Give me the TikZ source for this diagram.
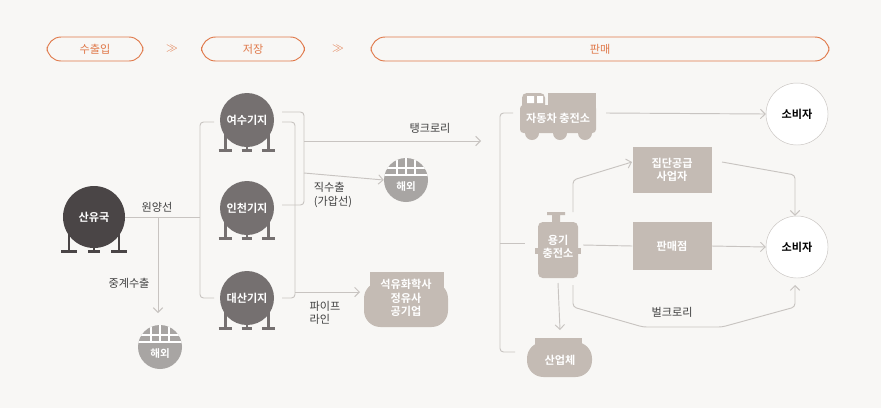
\documentclass[tikz,border=0pt]{standalone}
\usepackage{fontspec}
\setmainfont{Noto Sans CJK KR}[BoldFont={Noto Sans CJK KR Bold}]
\usetikzlibrary{positioning,arrows.meta}
\definecolor{bgcol}{HTML}{F8F7F5}
\definecolor{lpgorange}{HTML}{E0794A}
\definecolor{oilcol}{HTML}{4A4546}
\definecolor{basecol}{HTML}{757070}
\definecolor{globecol}{HTML}{A8A5A3}
\definecolor{salecol}{HTML}{C4BBB4}
\definecolor{linecol}{HTML}{C8C4C1}

% tank legs below a round node: centre x, y, radius
\newcommand{\tanklegs}[4]{%
  \draw[#4, line width=2.2pt] (#1-#3*0.8,#2) -- (#1-#3*0.8,#2+#3*1.12)
    (#1+#3*0.8,#2) -- (#1+#3*0.8,#2+#3*1.12)
    (#1-#3*1.05,#2+#3*1.12) -- (#1-#3*0.55,#2+#3*1.12)
    (#1+#3*0.55,#2+#3*1.12) -- (#1+#3*1.05,#2+#3*1.12)
    (#1,#2+#3*0.9) -- (#1,#2+#3*1.12)
    (#1-#3*0.2,#2+#3*1.12) -- (#1+#3*0.2,#2+#3*1.12);}
% globe grid on a round node
\newcommand{\globegrid}[2]{%
  \begin{scope}
    \clip (#1,#2) circle (22);
    \draw[white, line width=1.6pt] (#1-22,#2-12) -- (#1+22,#2-12) (#1-22,#2-5) -- (#1+22,#2-5)
      (#1,#2-22) -- (#1,#2-5) (#1-9,#2-22) -- (#1-9,#2-5) (#1+9,#2-22) -- (#1+9,#2-5);
  \end{scope}}

\begin{document}
\begin{tikzpicture}[x=0.03cm, y=-0.03cm,
    every node/.style={font=\fontsize{9.5}{11.5}\selectfont},
    stage/.style={draw=lpgorange, rounded corners=12, thick, text=lpgorange, minimum height=0.72cm},
    chev/.style={text=lpgorange, font=\fontsize{10}{10}\selectfont},
    tank/.style={circle, fill=basecol, text=white, minimum size=1.62cm, inner sep=0pt, font=\fontsize{9.5}{11}\selectfont\bfseries},
    globe/.style={circle, fill=globecol, text=white, minimum size=1.32cm, inner sep=0pt},
    salebox/.style={fill=salecol, text=white, align=center, inner sep=0pt, font=\fontsize{9.5}{11.5}\selectfont\bfseries},
    user/.style={circle, draw=linecol, fill=white, minimum size=1.86cm, inner sep=0pt},
    flow/.style={draw=linecol, line width=0.8pt, rounded corners=3},
    arrow/.style={flow, -{Straight Barb[length=4pt, width=8pt]}},
    lbl/.style={text=black!75, align=left}
  ]
  \fill[bgcol] (0,0) rectangle (881,408);

  % stages
  \node[stage, minimum width=2.88cm] (imp) at (95,49) {수출입};
  \node[chev] (c1) at (172,49) {$\gg$};
  \node[stage, minimum width=3.09cm] (sto) at (253,49) {저장};
  \node[chev] (c2) at (338,49) {$\gg$};
  \node[stage, minimum width=13.74cm] (sal) at (600,49) {판매};

  % oil producer and bases
  \tanklegs{94}{217}{31}{oilcol}
  \node[tank, fill=oilcol, minimum size=1.86cm] (oil) at (94,217) {산유국};
  \tanklegs{247}{120}{27}{basecol}
  \node[tank] (yeosu) at (247,120) {여수기지};
  \tanklegs{247}{208}{27}{basecol}
  \node[tank] (incheon) at (247,208) {인천기지};
  \tanklegs{247}{298}{27}{basecol}
  \node[tank] (daesan) at (247,298) {대산기지};

  % overseas
  \node[globe] (abroad1) at (160,347) {};
  \globegrid{160}{347}
  \node[text=white, font=\fontsize{9}{10}\selectfont\bfseries] at (160,354) {해외};
  \node[globe] (abroad2) at (406,180) {};
  \globegrid{406}{180}
  \node[text=white, font=\fontsize{9}{10}\selectfont\bfseries] at (406,187) {해외};

  % petrochemical
  \fill[salecol] (370,272) rectangle (444,290);
  \fill[salecol, rounded corners=14] (364,282) rectangle (448,327);
  \node[salebox] (petro) at (406,298) {석유화학사\\정유사\\공기업};
  \coordinate (petroin) at (360,292);

  % storage flows
  \coordinate (split) at (158,217);
  \draw[flow] (oil.east) -- (200,217);
  \draw[flow] (214,122) -- (200,122) -- (200,298) -- (214,298);
  \draw[arrow, rounded corners=0] (split) -- (158,313);
  \node[lbl] at (157,207) {원양선};
  \node[lbl] at (129,283) {중계수출};

  \draw[flow] (282,112) -- (304,112) -- (304,205) -- (282,205);
  \draw[flow] (282,122) -- (295,122) -- (295,298) -- (282,298);
  \coordinate (truckline) at (481,141);
  \draw[arrow] (304,141) -- (truckline);
  \draw[arrow] (304,173) -- (abroad2.west);
  \draw[arrow] (295,292) -- (petroin);
  \node[lbl] at (430,128) {탱크로리};
  \node[lbl] at (333,195) {직수출\\(가압선)};
  \node[lbl] at (325,313) {파이프\\라인};

  % car station (truck)
  \fill[salecol, rounded corners=3] (520,105) rectangle (596,133);
  \fill[salecol, rounded corners=4] (522,93) rectangle (545,110);
  \fill[salecol] (548,93) rectangle (596,110);
  \fill[white] (527,96) rectangle (534,103) (537,96) rectangle (543,103);
  \fill[salecol] (532,133) circle (7) (560,133) circle (7) (585,133) circle (7);
  \node[salebox] (car) at (558,118) {자동차 충전소};

  % cylinder station
  \fill[salecol] (552,214) rectangle (560,222) (547,212) rectangle (565,215);
  \fill[salecol, rounded corners=4] (538,222) rectangle (578,278);
  \fill[salecol] (535,248) rectangle (581,254);
  \node[salebox] (cyl) at (558,247) {용기\\충전소};

  % industry
  \fill[salecol] (535,338) rectangle (582,345);
  \fill[salecol, rounded corners=14] (527,342) rectangle (592,377);
  \node[salebox] (ind) at (560,360) {산업체};

  \node[salebox, minimum width=2.37cm, minimum height=1.38cm] (group) at (672,170) {집단공급\\사업자};
  \node[salebox, minimum width=2.37cm, minimum height=1.44cm] (shop) at (672,246) {판매점};
  \node[user, font=\fontsize{9.5}{11}\selectfont\bfseries] (user1) at (797,114) {소비자};
  \node[user, font=\fontsize{9.5}{11}\selectfont\bfseries] (user2) at (797,247) {소비자};

  % sales flows
  \draw[flow] (513,113) -- (500,113) -- (500,352) -- (515,352);
  \draw[flow] (500,243) -- (525,243);
  \draw[arrow] (606,113) -- (user1.west);
  \draw[arrow] (573,212) -- (573,180) -- (632,162);
  \draw[flow] (583,245) -- (shop.west);
  \draw[arrow] (shop.east) -- (user2.west);
  \draw[arrow] (722,162) -- (795,175) -- (user2.north -| 795,0);
  \draw[arrow] (558,283) -- (ind.north |- 0,330);
  \draw[arrow] (573,285) -- (573,307) -- (643,327) -- (722,327) -- (795,307) -- (795,285);
  \node[lbl] at (672,312) {벌크로리};
\end{tikzpicture}
\end{document}
